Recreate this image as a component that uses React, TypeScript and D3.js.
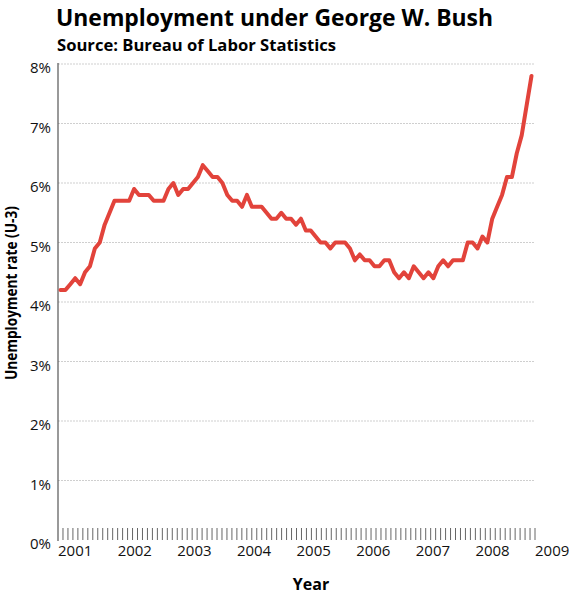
import React from "react";
import * as d3 from "d3";

// Monthly unemployment rate (U-3), %, Jan 2001 .. Jan 2009
const rate2001 = [4.2, 4.2, 4.3, 4.4, 4.3, 4.5, 4.6, 4.9, 5.0, 5.3, 5.5, 5.7];
const rate2002 = [5.7, 5.7, 5.7, 5.9, 5.8, 5.8, 5.8, 5.7, 5.7, 5.7, 5.9, 6.0];
const rate2003 = [5.8, 5.9, 5.9, 6.0, 6.1, 6.3, 6.2, 6.1, 6.1, 6.0, 5.8, 5.7];
const rate2004 = [5.7, 5.6, 5.8, 5.6, 5.6, 5.6, 5.5, 5.4, 5.4, 5.5, 5.4, 5.4];
const rate2005 = [5.3, 5.4, 5.2, 5.2, 5.1, 5.0, 5.0, 4.9, 5.0, 5.0, 5.0, 4.9];
const rate2006 = [4.7, 4.8, 4.7, 4.7, 4.6, 4.6, 4.7, 4.7, 4.5, 4.4, 4.5, 4.4];
const rate2007 = [4.6, 4.5, 4.4, 4.5, 4.4, 4.6, 4.7, 4.6, 4.7, 4.7, 4.7, 5.0];
const rate2008 = [5.0, 4.9, 5.1, 5.0, 5.4, 5.6, 5.8, 6.1, 6.1, 6.5, 6.8, 7.3];
const rate2009 = [7.8];

const yearLabels = ["2001", "2002", "2003", "2004", "2005", "2006", "2007", "2008", "2009"];
const yTicks = [0, 1, 2, 3, 4, 5, 6, 7, 8];

const series = [
  ...rate2001, ...rate2002, ...rate2003, ...rate2004, ...rate2005,
  ...rate2006, ...rate2007, ...rate2008, ...rate2009,
];

const W = 569;
const H = 594;
const FONT = "'Open Sans', 'DejaVu Sans', sans-serif";

export default function App() {
  const nMonths = 96;
  const y = d3.scaleLinear().domain([0, 8]).range([540, 64]);
  const xData = d3.scaleLinear().domain([0, nMonths]).range([60.5, 531.5]);
  const xAxis = d3.scaleLinear().domain([0, nMonths]).range([58, 535]);

  const line = d3
    .line<number>()
    .x((_, i) => xData(i))
    .y((d) => y(d))
    .curve(d3.curveLinear);

  const monthTicks = d3.range(1, nMonths + 1);

  return (
    <svg
      width={W}
      height={H}
      style={{ position: "absolute", left: 0, top: 0, background: "#fff" }}
      fontFamily={FONT}
    >
      <text x={56} y={26} fontSize={24} fontWeight={700} fill="#000" textLength={437} lengthAdjust="spacingAndGlyphs">
        Unemployment under George W. Bush
      </text>
      <text x={57} y={51} fontSize={16} fontWeight={700} fill="#000" textLength={279} lengthAdjust="spacingAndGlyphs">
        Source: Bureau of Labor Statistics
      </text>

      {/* gridlines */}
      {yTicks.slice(1).map((t) => (
        <line
          key={t}
          x1={58}
          x2={535}
          y1={y(t)}
          y2={y(t)}
          stroke="#cfcfcf"
          strokeWidth={1}
          strokeDasharray="2,1"
        />
      ))}

      {/* y labels */}
      {yTicks.map((t) => (
        <text key={t} x={51} y={y(t) + 9} fontSize={15} textAnchor="end" fill="#111">
          {t}%
        </text>
      ))}

      {/* month ticks */}
      {monthTicks.map((m) => (
        <line
          key={m}
          x1={xAxis(m)}
          x2={xAxis(m)}
          y1={528}
          y2={540}
          stroke="#555"
          strokeWidth={0.9}
        />
      ))}

      {/* y axis line */}
      <line x1={58} x2={58} y1={63} y2={541} stroke="#555" strokeWidth={1.2} />

      {/* year labels */}
      {yearLabels.map((lab, i) => (
        <text key={lab} x={xAxis(i * 12)} y={556} fontSize={15} fill="#111">
          {lab}
        </text>
      ))}

      <path
        d={line(series) || ""}
        fill="none"
        stroke="#e2433b"
        strokeWidth={4}
        strokeLinejoin="round"
        strokeLinecap="round"
      />

      <text
        transform={`translate(16.5, 293) rotate(-90)`}
        textAnchor="middle"
        fontSize={16}
        fontWeight={700}
        fill="#000"
        textLength={174}
        lengthAdjust="spacingAndGlyphs"
      >
        Unemployment rate (U-3)
      </text>
      <text x={311} y={590} textAnchor="middle" fontSize={16} fontWeight={700} fill="#000">
        Year
      </text>
    </svg>
  );
}
